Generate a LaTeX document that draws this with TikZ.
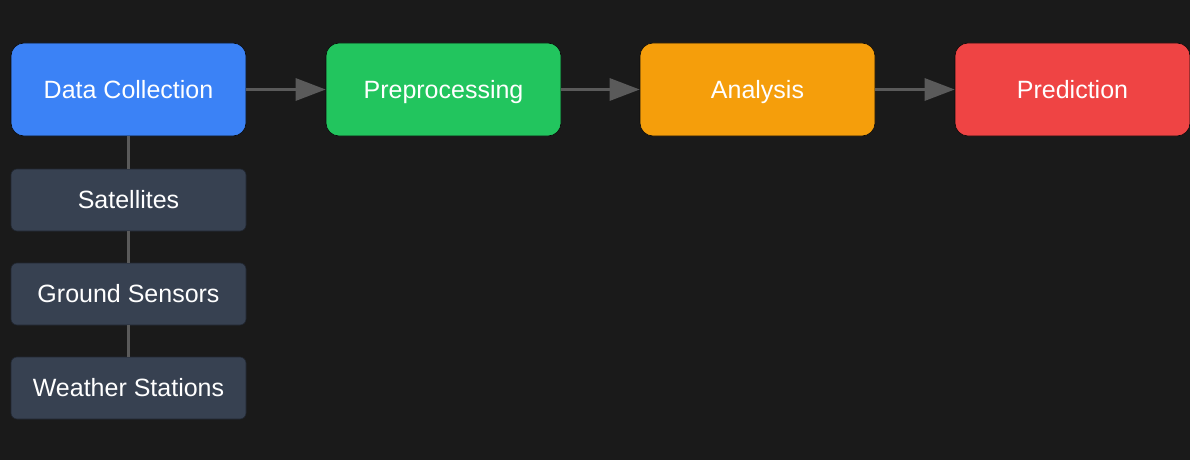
\documentclass[tikz,border=0pt]{standalone}
\usepackage{fontspec}
\setmainfont{Liberation Sans}
\usetikzlibrary{arrows.meta}
\definecolor{bg}{HTML}{1A1A1A}
\definecolor{cblue}{HTML}{3B82F6}
\definecolor{cgreen}{HTML}{22C55E}
\definecolor{corange}{HTML}{F59E0B}
\definecolor{cred}{HTML}{EF4444}
\definecolor{csub}{HTML}{374151}
\definecolor{cline}{HTML}{5A5A5A}
\begin{document}
\begin{tikzpicture}[x=1pt,y=-1pt,
  txt/.style={text=white, font=\fontsize{25}{30}\selectfont, text height=20pt, text depth=3pt, inner sep=0pt},
  mainbox/.style={txt, rounded corners=13pt, minimum width=235pt, minimum height=93pt, draw=black!60!bg, line width=0.6pt},
  subbox/.style={txt, fill=csub, rounded corners=6pt, minimum width=235pt, minimum height=62pt, draw=black!40!csub, line width=0.6pt},
  flow/.style={draw=cline, line width=3pt, -{Triangle[length=30pt,width=22pt]}},
  link/.style={draw=cline, line width=3pt}]
\fill[bg] (0,0) rectangle (1190,460);
\useasboundingbox (0,0) rectangle (1190,460);
\node[mainbox, fill=cblue] (dc) at (128.5,89.5) {Data Collection};
\node[mainbox, fill=cgreen] (pre) at (443.5,89.5) {Preprocessing};
\node[mainbox, fill=corange] (ana) at (757.5,89.5) {Analysis};
\node[mainbox, fill=cred] (pred) at (1072.5,89.5) {Prediction};
\node[subbox] (sat) at (128.5,200) {Satellites};
\node[subbox] (gs) at (128.5,294) {Ground Sensors};
\node[subbox] (ws) at (128.5,388) {Weather Stations};
\draw[flow] (dc) -- (pre);
\draw[flow] (pre) -- (ana);
\draw[flow] (ana) -- (pred);
\draw[link] (dc) -- (sat);
\draw[link] (sat) -- (gs);
\draw[link] (gs) -- (ws);
\end{tikzpicture}
\end{document}
